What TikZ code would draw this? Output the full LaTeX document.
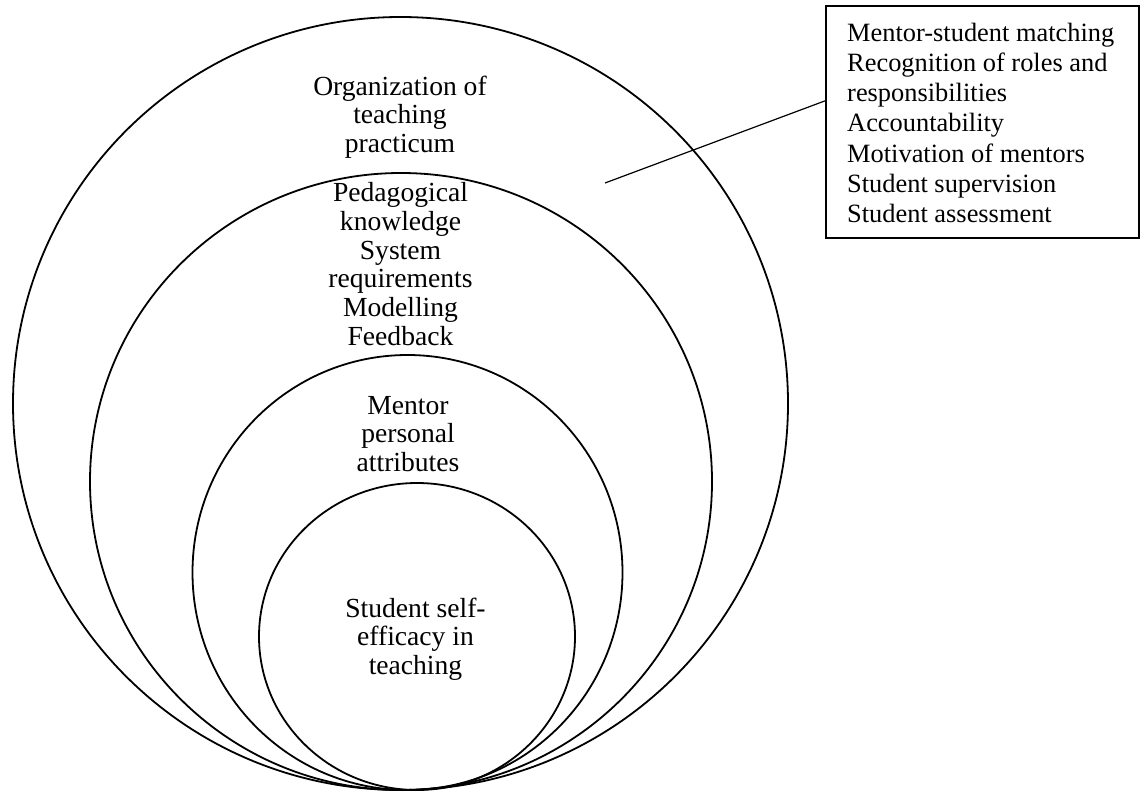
\documentclass[tikz,border=0pt]{standalone}
\usepackage{fontspec}
\setmainfont{Liberation Serif}
\usetikzlibrary{shapes.geometric,calc}
\begin{document}
\begin{tikzpicture}[x=1pt,y=-1pt,
  ring/.style={draw, ellipse, line width=1.8pt, inner sep=0pt},
  ringlabel/.style={align=center, inner sep=0pt, font=\fontsize{27.6}{28.7}\selectfont},
  listbox/.style={draw, line width=1.8pt, inner sep=0pt, anchor=north west},
  listtext/.style={align=left, inner sep=0pt, anchor=north west, font=\fontsize{26.4}{30.2}\selectfont},
  leader/.style={line width=1.2pt}]
\useasboundingbox (0,0) rectangle (1140,792);

% nested rings, all touching at the bottom
\node[ring, minimum width=775pt, minimum height=773pt] (outer) at (400.5,403.5) {};
\node[ring, minimum width=622pt, minimum height=617pt] (second) at (401,481.5) {};
\node[ring, minimum width=430pt, minimum height=435pt] (third) at (407.5,572.5) {};
\node[ring, minimum width=316pt, minimum height=307pt] (inner) at (417,636.5) {};

% ring labels
\node[ringlabel] (l1) at (400,117) {Organization of\\teaching\\practicum};
\node[ringlabel] (l2) at (400.5,264) {Pedagogical\\knowledge\\System\\requirements\\Modelling\\Feedback};
\node[ringlabel] (l3) at (408,434) {Mentor\\personal\\attributes};
\node[ringlabel] (l4) at (415.5,639) {Student self-\\efficacy in\\teaching};

% list of practicum aspects
\node[listbox, minimum width=313pt, minimum height=232pt] (box) at (825,5) {};
\node[listtext] (items) at (847,22.7) {Mentor-student matching\\Recognition of roles and\\responsibilities\\Accountability\\Motivation of mentors\\Student supervision\\Student assessment};

% leader from the outer ring to the list
\coordinate (lead) at (605,183);
\draw[leader] (lead) -- ($(box.north west)!0.41!(box.south west)$);
\end{tikzpicture}
\end{document}
